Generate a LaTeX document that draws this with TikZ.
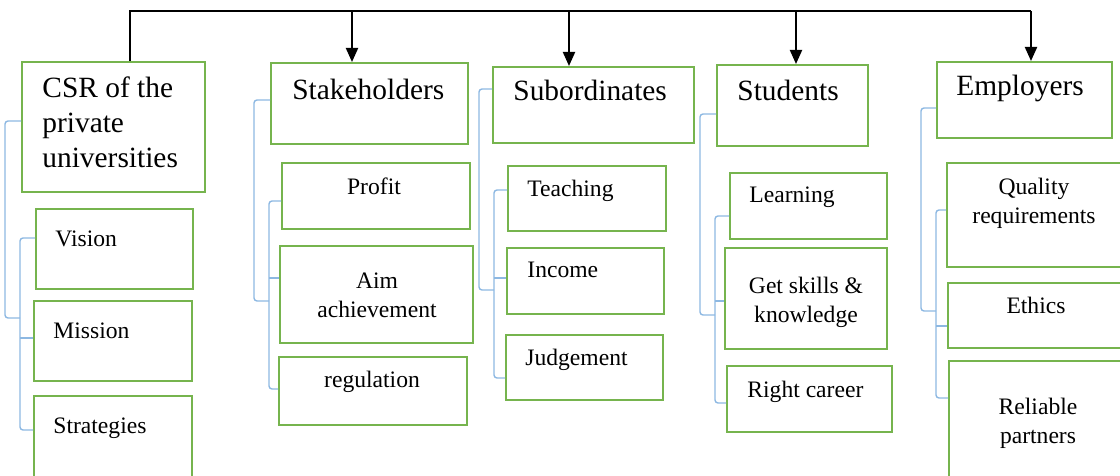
\documentclass[tikz,border=0pt]{standalone}
\usepackage{fontspec}
\setmainfont{Liberation Serif}
\usetikzlibrary{fit,arrows.meta}
\definecolor{boxgreen}{RGB}{118,180,78}
\definecolor{linkblue}{RGB}{141,184,226}
\newcommand{\headfont}{\fontsize{14.7}{17.75}\selectfont}
\newcommand{\itemfont}{\fontsize{11.8}{14.5}\selectfont}
\tikzset{
  gbox/.style={draw=boxgreen, line width=1pt, inner sep=0pt, fill=white},
  head/.style={inner sep=0pt, font=\headfont, align=left, anchor=base west},
  itemL/.style={inner sep=0pt, font=\itemfont, align=left, anchor=base west},
  itemC/.style={inner sep=0pt, font=\itemfont, align=center, anchor=base},
  bline/.style={draw=linkblue, line width=0.7pt, rounded corners=1.5pt},
  tline/.style={draw=black, line width=1pt},
  tarrow/.style={tline, -{Triangle[width=6pt,length=7pt]}}
}
\begin{document}
\begin{tikzpicture}[x=0.5pt,y=-0.5pt]
\useasboundingbox (0,0) rectangle (1120,476);

% multi-line labels are placed by the baseline of their last line

% ---- column 1: CSR ----
\node[gbox, fit={(22,62) (205,192)}] (csr) {};
\node[gbox, fit={(36,209) (193,289)}] (vision) {};
\node[gbox, fit={(34,301) (192,381)}] (mission) {};
\node[gbox, fit={(34,396) (192,480)}] (strat) {};
\node[head] (csrT) at (42,168) {CSR of the\\private\\universities};
\node[itemL] (visionT) at (55,247) {Vision};
\node[itemL] (missionT) at (53,338) {Mission};
\node[itemL] (stratT) at (53,433) {Strategies};

% ---- column 2: Stakeholders ----
\node[gbox, fit={(271,63) (468,144)}] (stake) {};
\node[gbox, fit={(282,163) (470,229)}] (profit) {};
\node[gbox, fit={(280,246) (473,343)}] (aim) {};
\node[gbox, fit={(279,357) (467,425)}] (regul) {};
\node[head] (stakeT) at (292,100) {Stakeholders};
\node[itemC] (profitT) at (374,194) {Profit};
\node[itemC] (aimT) at (377,317) {Aim\\achievement};
\node[itemC] (regulT) at (372,387) {regulation};

% ---- column 3: Subordinates ----
\node[gbox, fit={(493,67) (694,143)}] (subord) {};
\node[gbox, fit={(508,166) (666,231)}] (teach) {};
\node[gbox, fit={(507,248) (664,314)}] (income) {};
\node[gbox, fit={(506,335) (663,400)}] (judge) {};
\node[head] (subordT) at (513,101) {Subordinates};
\node[itemL] (teachT) at (527,197) {Teaching};
\node[itemL] (incomeT) at (527,278) {Income};
\node[itemL] (judgeT) at (525,365) {Judgement};

% ---- column 4: Students ----
\node[gbox, fit={(717,65) (868,146)}] (stud) {};
\node[gbox, fit={(730,173) (887,239)}] (learn) {};
\node[gbox, fit={(725,248) (887,349)}] (skills) {};
\node[gbox, fit={(727,366) (892,432)}] (career) {};
\node[head] (studT) at (737,101) {Students};
\node[itemL] (learnT) at (749,203) {Learning};
\node[itemC] (skillsT) at (806,322) {Get skills \&\\knowledge};
\node[itemL] (careerT) at (747,397) {Right career};

% ---- column 5: Employers ----
\node[gbox, fit={(937,62) (1112,138)}] (empl) {};
\node[gbox, fit={(947,163) (1125,267)}] (quality) {};
\node[gbox, fit={(948,283) (1125,348)}] (ethics) {};
\node[gbox, fit={(949,361) (1125,480)}] (reliable) {};
\node[head] (emplT) at (956,96) {Employers};
\node[itemC] (qualityT) at (1034,224) {Quality\\requirements};
\node[itemC] (ethicsT) at (1036,313) {Ethics};
\node[itemC] (reliableT) at (1038,443) {Reliable\\partners};

% ---- top distribution line with arrows ----
\coordinate (trunkL) at (130,11);
\coordinate (trunkR) at (1031,11);
\draw[tline] (csr.north -| trunkL) -- (trunkL) -- (trunkR);
\draw[tarrow] (352,11) -- (stake.north -| 352,0);
\draw[tarrow] (569,11) -- (subord.north -| 569,0);
\draw[tarrow] (796,11) -- (stud.north -| 796,0);
\draw[tarrow] (trunkR) -- (empl.north -| trunkR);

% ---- blue brackets: CSR ----
\draw[bline] (csr.west |- 0,121) -- (5,121) -- (5,318) -- (20,318);
\draw[bline] (vision.west |- 0,238) -- (20,238) -- (20,430) -- (strat.west |- 0,430);
\draw[bline] (20,338) -- (mission.west |- 0,338);

% ---- blue brackets: Stakeholders ----
\draw[bline] (stake.west |- 0,100) -- (254,100) -- (254,301) -- (269,301);
\draw[bline] (profit.west |- 0,201) -- (269,201) -- (269,389) -- (regul.west |- 0,389);
\draw[bline] (269,278) -- (aim.west |- 0,278);

% ---- blue brackets: Subordinates ----
\draw[bline] (subord.west |- 0,89) -- (479,89) -- (479,290) -- (494,290);
\draw[bline] (teach.west |- 0,190) -- (494,190) -- (494,378) -- (judge.west |- 0,378);
\draw[bline] (494,278) -- (income.west |- 0,278);

% ---- blue brackets: Students ----
\draw[bline] (stud.west |- 0,114) -- (700,114) -- (700,315) -- (715,315);
\draw[bline] (learn.west |- 0,216) -- (715,216) -- (715,403) -- (career.west |- 0,403);
\draw[bline] (715,301) -- (skills.west |- 0,301);

% ---- blue brackets: Employers ----
\draw[bline] (empl.west |- 0,108) -- (921,108) -- (921,311) -- (936,311);
\draw[bline] (quality.west |- 0,210) -- (936,210) -- (936,398) -- (reliable.west |- 0,398);
\draw[bline] (936,326) -- (ethics.west |- 0,326);
\end{tikzpicture}
\end{document}
